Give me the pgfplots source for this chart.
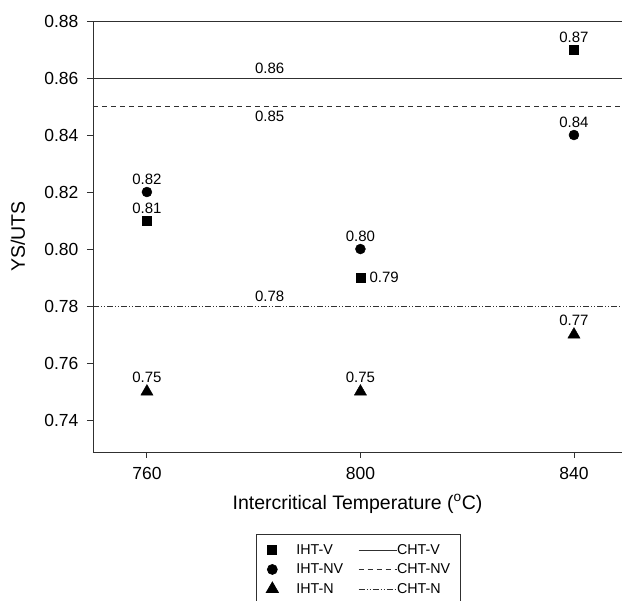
\documentclass[border=0pt]{standalone}
\usepackage{pgfplots}
\pgfplotsset{compat=1.18}
\usepackage{fontspec}
\setmainfont{Liberation Sans}
\definecolor{axc}{HTML}{303030}
\pgfplotsset{
  longline/.style={legend image code/.code={\draw[##1] (0pt,0pt) -- (38pt,0pt);}},
  markimg/.style={legend image code/.code={\path[draw=none,fill=none] (0pt,0pt) rectangle (25pt,0pt); \draw[##1] plot coordinates {(1pt,0pt)};}},
}
\begin{document}
\begin{tikzpicture}
\begin{axis}[
  scale only axis, width=529pt, height=431pt,
  xmin=749.9, xmax=849, ymin=0.7288, ymax=0.88,
  clip=false,
  axis x line*=bottom, axis y line*=left,
  axis line style={axc, line width=0.9pt, -},
  xtick={760,800,840},
  ytick={0.74,0.76,0.78,0.80,0.82,0.84,0.86,0.88},
  tick align=outside, major tick length=6pt,
  tick style={axc, line width=0.9pt},
  /pgf/number format/assume math mode=true,
  yticklabel style={/pgf/number format/.cd, fixed, fixed zerofill, precision=2, /tikz/.cd, xshift=-5pt},
  xticklabel style={/pgf/number format/1000 sep={}, yshift=-6pt},
  ticklabel style={font=\fontsize{17.5}{20}\selectfont},
  ylabel={YS/UTS},
  xlabel={Intercritical Temperature (\textsuperscript{o}C)},
  label style={font=\fontsize{19.5}{23}\selectfont},
  ylabel style={at={(axis description cs:-0.1418,0.5)}, anchor=center},
  xlabel style={at={(axis description cs:0.5,-0.1206)}, anchor=center},
  legend columns=2,
  legend cell align=left,
  legend style={at={(axis description cs:0.308,-0.190)}, anchor=north west,
    draw=axc, line width=0.7pt, font=\fontsize{14.3}{17}\selectfont,
    inner xsep=10pt, inner ysep=8pt, row sep=4pt,
    nodes={inner xsep=0pt},
    /tikz/every even column/.append style={column sep=15pt}},
]
% IHT-V
\addplot[only marks, mark=square*, mark size=4.5pt, black, markimg] coordinates {(760,0.81) (800,0.79) (840,0.87)};
\addlegendentry{IHT-V}
% CHT-V
\addplot[axc, line width=0.8pt, longline] coordinates {(749.9,0.86) (849,0.86)};
\addlegendentry{CHT-V}
% IHT-NV
\addplot[only marks, mark=*, mark size=5pt, black, markimg] coordinates {(760,0.82) (800,0.80) (840,0.84)};
\addlegendentry{IHT-NV}
% CHT-NV
\addplot[axc, line width=0.8pt, dash pattern=on 5pt off 4pt, longline] coordinates {(749.9,0.85) (849,0.85)};
\addlegendentry{CHT-NV}
% IHT-N
\addplot[only marks, mark=triangle*, mark size=7pt, black, markimg] coordinates {(760,0.75) (800,0.75) (840,0.77)};
\addlegendentry{IHT-N}
% CHT-N
\addplot[axc, line width=0.8pt, dash pattern=on 6pt off 2pt on 1pt off 2pt on 1pt off 2pt, longline] coordinates {(749.9,0.78) (849,0.78)};
\addlegendentry{CHT-N}
% top line
\draw[axc, line width=0.9pt] (rel axis cs:0,1) -- (rel axis cs:1,1);
% data labels
\begin{scope}[every node/.style={font=\fontsize{15}{17}\selectfont, inner sep=0pt}]
\node[anchor=south] at ([yshift=7pt]axis cs:760,0.82) {0.82};
\node[anchor=south] at ([yshift=7pt]axis cs:760,0.81) {0.81};
\node[anchor=south] at ([yshift=7pt]axis cs:800,0.80) {0.80};
\node[anchor=west] at ([xshift=9pt]axis cs:800,0.79) {0.79};
\node[anchor=south] at ([yshift=7pt]axis cs:840,0.87) {0.87};
\node[anchor=south] at ([yshift=7pt]axis cs:840,0.84) {0.84};
\node[anchor=south] at ([yshift=9pt]axis cs:760,0.75) {0.75};
\node[anchor=south] at ([yshift=9pt]axis cs:800,0.75) {0.75};
\node[anchor=south] at ([yshift=9pt]axis cs:840,0.77) {0.77};
\node[anchor=south] at ([yshift=4pt]axis cs:783,0.86) {0.86};
\node[anchor=north] at ([yshift=-4pt]axis cs:783,0.85) {0.85};
\node[anchor=south] at ([yshift=4pt]axis cs:783,0.78) {0.78};
\end{scope}
\coordinate (O) at (rel axis cs:0,0);
\end{axis}
\pgfresetboundingbox
\path[use as bounding box] (O) ++(-93pt,-149pt) rectangle ++(625pt,601pt);
\end{tikzpicture}
\end{document}
